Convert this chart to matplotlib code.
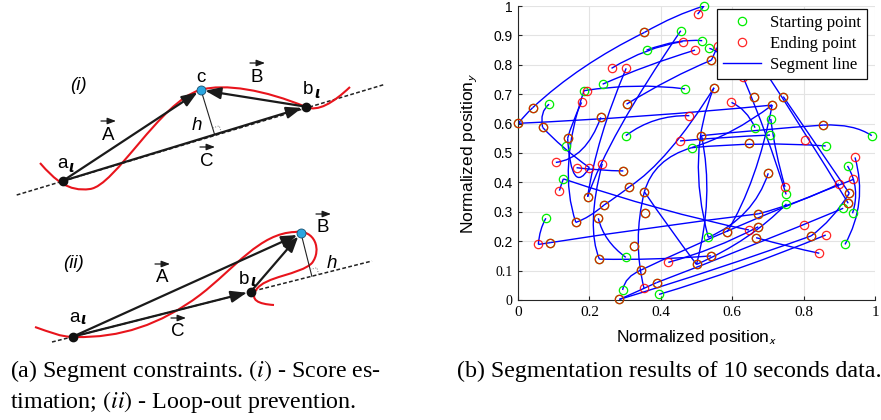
import numpy as np
import matplotlib
matplotlib.use('Agg')
import matplotlib.pyplot as plt
from matplotlib.path import Path
from matplotlib.patches import PathPatch

plt.rcParams['mathtext.fontset'] = 'stix'

# ---------------- left diagram: key points (figure pixels, y down) ----------------
# panel (i)
a1 = np.array([62.7, 181.0])
b1 = np.array([306.0, 106.7])
c1 = np.array([201.0, 90.0])
dash1 = np.array([[16.7, 195.0], [385.0, 84.3]])
red1_start = (40, 163)
red1_beziers = [  # (ctrl1, ctrl2, end)
    ((55, 180), (68, 192), (90, 189)),
    ((115, 186), (160, 102), (200, 90)),
    ((225, 83), (265, 90), (306, 107)),
    ((318, 112), (333, 103), (350, 87)),
]
# panel (ii)
a2 = np.array([72.7, 336.7])
b2 = np.array([250.7, 291.7])
c2 = np.array([301.0, 233.3])
dash2 = np.array([[52.0, 342.0], [372.0, 261.0]])
red2_start = (35, 327)
red2_beziers = [
    ((50, 332), (60, 337), (75, 337)),
    ((120, 338), (160, 325), (200, 295)),
    ((235, 268), (260, 233), (295, 232)),
    ((315, 229), (322, 250), (312, 263)),
    ((300, 275), (265, 276), (256, 290)),
    ((250, 300), (258, 304), (274, 305)),
]

# labels (text, x, y, italic, has_vector_arrow, has_iota_subscript)
labels = [
    ('(i)', 78, 85, True, False, False), ('c', 201, 77, False, False, False),
    ('B', 257, 77, False, True, False), ('b', 308, 90, False, False, True),
    ('A', 108, 135, False, True, False), ('h', 197, 125, True, False, False),
    ('C', 207, 161, False, True, False), ('a', 62, 164, False, False, True),
    ('(ii)', 73, 263, True, False, False), ('A', 162, 278, False, True, False),
    ('b', 244, 279, False, False, True), ('B', 323, 228, False, True, False),
    ('h', 332, 263, True, False, False), ('a', 74, 317, False, False, True),
    ('C', 178, 332, False, True, False),
]

# ---------------- right plot data ----------------
start_x = [0.521, 0.456, 0.354, 0.516, 0.360, 0.536, 0.542, 0.237, 0.185, 0.468,
           0.549, 0.087, 0.041, 0.304, 0.661, 0.712, 0.743, 0.708, 0.001, 0.069,
           0.232, 0.302, 0.139, 0.134, 0.514, 0.486, 0.664, 0.647, 0.706, 0.855,
           0.991, 0.862, 0.295, 0.127, 0.312, 0.354, 0.195, 0.241, 0.356, 0.078,
           0.162, 0.225, 0.090, 0.326, 0.228, 0.302, 0.345, 0.500, 0.541, 0.533,
           0.586, 0.673, 0.667, 0.673, 0.701, 0.751, 0.752, 0.821, 0.916, 0.923,
           0.928, 0.925, 0.911, 0.937, 0.293, 0.284, 0.388, 0.395]
start_y = [1.000, 0.916, 0.910, 0.882, 0.850, 0.856, 0.816, 0.734, 0.712, 0.718,
           0.722, 0.666, 0.654, 0.666, 0.692, 0.663, 0.692, 0.616, 0.601, 0.587,
           0.621, 0.559, 0.550, 0.525, 0.559, 0.518, 0.586, 0.533, 0.561, 0.595,
           0.559, 0.524, 0.439, 0.412, 0.385, 0.368, 0.351, 0.323, 0.295, 0.278,
           0.264, 0.278, 0.195, 0.184, 0.139, 0.145, 0.102, 0.121, 0.150, 0.213,
           0.232, 0.249, 0.212, 0.293, 0.431, 0.359, 0.327, 0.218, 0.189, 0.456,
           0.363, 0.329, 0.312, 0.295, 0.034, 0.002, 0.059, 0.019]

end_x = [0.503, 0.354, 0.461, 0.496, 0.561, 0.542, 0.262, 0.303, 0.192, 0.178,
         0.041, 0.304, 0.549, 0.598, 0.631, 0.661, 0.712, 0.743, 0.001, 0.069,
         0.232, 0.480, 0.139, 0.454, 0.514, 0.647, 0.804, 0.855, 0.944, 0.106,
         0.164, 0.200, 0.236, 0.295, 0.116, 0.312, 0.354, 0.195, 0.241, 0.356,
         0.162, 0.225, 0.057, 0.090, 0.326, 0.228, 0.421, 0.345, 0.500, 0.541,
         0.586, 0.647, 0.673, 0.667, 0.673, 0.701, 0.748, 0.802, 0.821, 0.862,
         0.844, 0.899, 0.939, 0.928, 0.925, 0.284, 0.353, 0.388]
end_y = [0.972, 0.910, 0.879, 0.850, 0.865, 0.816, 0.788, 0.788, 0.710, 0.672,
         0.654, 0.666, 0.722, 0.672, 0.757, 0.692, 0.663, 0.692, 0.601, 0.587,
         0.621, 0.627, 0.550, 0.541, 0.559, 0.533, 0.544, 0.595, 0.485, 0.468,
         0.450, 0.450, 0.463, 0.439, 0.372, 0.385, 0.368, 0.351, 0.323, 0.295,
         0.264, 0.278, 0.189, 0.195, 0.184, 0.139, 0.128, 0.102, 0.121, 0.150,
         0.232, 0.238, 0.249, 0.212, 0.293, 0.431, 0.385, 0.255, 0.218, 0.221,
         0.159, 0.395, 0.410, 0.363, 0.329, 0.002, 0.040, 0.059]

# segment lines: start, quadratic control, end
seg_x0 = [0.001, 0.041, 0.354, 0.521, 0.001, 0.087, 0.069, 0.164, 0.185, 0.237,
          0.262, 0.360, 0.456, 0.303, 0.304, 0.178, 0.185, 0.302, 0.712, 0.514,
          0.855, 0.486, 0.706, 0.598, 0.549, 0.631, 0.743, 0.680, 0.708, 0.944,
          0.090, 0.673, 0.127, 0.116, 0.225, 0.228, 0.284, 0.388, 0.284, 0.395,
          0.293, 0.345, 0.354, 0.354, 0.354, 0.500, 0.533, 0.500, 0.162, 0.241,
          0.057, 0.057, 0.236, 0.667, 0.586, 0.673, 0.821, 0.923, 0.312, 0.536,
          0.542, 0.232, 0.139]
seg_y0 = [0.601, 0.654, 0.910, 1.000, 0.601, 0.666, 0.587, 0.450, 0.712, 0.734,
          0.788, 0.850, 0.916, 0.788, 0.666, 0.672, 0.712, 0.559, 0.663, 0.559,
          0.595, 0.518, 0.561, 0.672, 0.722, 0.757, 0.692, 0.800, 0.616, 0.485,
          0.195, 0.293, 0.412, 0.372, 0.278, 0.139, 0.002, 0.059, 0.002, 0.019,
          0.034, 0.102, 0.368, 0.368, 0.368, 0.121, 0.213, 0.121, 0.264, 0.323,
          0.189, 0.189, 0.463, 0.212, 0.232, 0.249, 0.218, 0.456, 0.385, 0.856,
          0.816, 0.621, 0.550]
seg_cx = [0.020, 0.170, 0.440, 0.512, 0.350, 0.060, 0.120, 0.230, 0.330, 0.360,
          0.360, 0.450, 0.250, 0.220, 0.430, 0.150, 0.110, 0.380, 0.600, 0.680,
          0.940, 0.680, 0.580, 0.640, 0.470, 0.700, 0.840, 0.800, 0.720, 0.980,
          0.380, 0.790, 0.400, 0.121, 0.240, 0.380, 0.336, 0.650, 0.550, 0.620,
          0.300, 0.600, 0.380, 0.320, 0.420, 0.550, 0.660, 0.650, 0.200, 0.280,
          0.060, 0.073, 0.190, 0.760, 0.670, 0.550, 0.880, 0.960, 0.420, 0.580,
          0.550, 0.190, 0.150]
seg_cy = [0.630, 0.800, 0.970, 0.986, 0.620, 0.640, 0.520, 0.440, 0.740, 0.800,
          0.860, 0.890, 0.550, 0.550, 0.760, 0.600, 0.450, 0.630, 0.560, 0.580,
          0.600, 0.540, 0.555, 0.650, 0.500, 0.560, 0.520, 0.580, 0.500, 0.330,
          0.250, 0.330, 0.300, 0.392, 0.200, 0.135, 0.030, 0.180, 0.100, 0.100,
          0.080, 0.250, 0.480, 0.200, 0.250, 0.350, 0.280, 0.200, 0.280, 0.354,
          0.240, 0.192, 0.250, 0.180, 0.400, 0.170, 0.270, 0.380, 0.470, 0.840,
          0.840, 0.480, 0.350]
seg_x1 = [0.041, 0.354, 0.521, 0.503, 0.712, 0.069, 0.200, 0.295, 0.468, 0.496,
          0.461, 0.516, 0.195, 0.195, 0.542, 0.139, 0.162, 0.480, 0.486, 0.855,
          0.991, 0.862, 0.454, 0.664, 0.533, 0.751, 0.928, 0.925, 0.748, 0.916,
          0.673, 0.899, 0.647, 0.127, 0.302, 0.541, 0.388, 0.911, 0.821, 0.862,
          0.345, 0.939, 0.486, 0.353, 0.500, 0.514, 0.701, 0.752, 0.241, 0.312,
          0.078, 0.090, 0.228, 0.844, 0.712, 0.421, 0.928, 0.937, 0.549, 0.631,
          0.561, 0.106, 0.200]
seg_y1 = [0.654, 0.910, 1.000, 0.972, 0.663, 0.587, 0.450, 0.439, 0.718, 0.850,
          0.879, 0.882, 0.351, 0.351, 0.816, 0.550, 0.264, 0.627, 0.518, 0.595,
          0.559, 0.524, 0.541, 0.586, 0.213, 0.359, 0.363, 0.329, 0.385, 0.189,
          0.293, 0.395, 0.238, 0.412, 0.145, 0.150, 0.059, 0.312, 0.218, 0.221,
          0.102, 0.410, 0.518, 0.040, 0.121, 0.559, 0.431, 0.327, 0.323, 0.385,
          0.278, 0.195, 0.139, 0.159, 0.663, 0.128, 0.363, 0.295, 0.722, 0.757,
          0.865, 0.468, 0.450]

x_ticks = [0, 0.2, 0.4, 0.6, 0.8, 1]
y_ticks = [0, 0.1, 0.2, 0.3, 0.4, 0.5, 0.6, 0.7, 0.8, 0.9, 1]

W, H = 881, 420
fig = plt.figure(figsize=(W / 100, H / 100), dpi=100)

# ---------------- left diagram ----------------
ax0 = fig.add_axes([0, 0, 1, 1])
ax0.set_xlim(0, W)
ax0.set_ylim(H, 0)
ax0.axis('off')

sans = 'Liberation Sans'
serif = 'Liberation Serif'
arrow_col = '#1a1a1a'


def red_curve(start, beziers):
    verts = [start]
    codes = [Path.MOVETO]
    for c_a, c_b, p in beziers:
        verts += [c_a, c_b, p]
        codes += [Path.CURVE4] * 3
    ax0.add_patch(PathPatch(Path(verts, codes), fc='none', ec='#e8141c', lw=1.5, zorder=2))


def vec_arrow(p0, p1, lw=1.6, scale=11, shrink=3):
    ax0.annotate('', xy=p1, xytext=p0,
                 arrowprops=dict(arrowstyle='-|>,head_length=0.85,head_width=0.32',
                                 lw=lw, color=arrow_col, shrinkA=0, shrinkB=shrink,
                                 mutation_scale=scale), zorder=4)


def right_angle(c, a, b, size=7):
    d = (b - a) / np.linalg.norm(b - a)
    foot = a + np.dot(c - a, d) * d
    n = (c - foot) / np.linalg.norm(c - foot)
    ax0.plot([foot[0], c[0]], [foot[1], c[1]], color='#222222', lw=0.8, zorder=3)
    sq = np.array([foot + d * size, foot + d * size + n * size, foot + n * size])
    ax0.plot(sq[:, 0], sq[:, 1], color='#777777', lw=0.7, ls=':', zorder=3)


for dash, a, b, c, red_s, red_b in [(dash1, a1, b1, c1, red1_start, red1_beziers),
                                    (dash2, a2, b2, c2, red2_start, red2_beziers)]:
    ax0.plot(dash[:, 0], dash[:, 1], color='#222222', lw=1.1, ls=(0, (2.5, 1.5)), zorder=1)
    red_curve(red_s, red_b)
    right_angle(c, a, b)
    vec_arrow(a, c)
    vec_arrow(b, c)
    vec_arrow(a, b)
    ax0.plot([a[0], b[0]], [a[1], b[1]], 'o', color='#111111', ms=6, zorder=5)
    ax0.plot(c[0], c[1], 'o', mfc='#2aa6e0', mec='#1a4f6e', mew=0.6, ms=6.5, zorder=6)

for txt, x, y, ital, arr, sub in labels:
    ax0.text(x, y, txt, fontsize=13.5, family=sans, style='italic' if ital else 'normal',
             ha='center', va='center', zorder=7)
    if arr:
        vec_arrow((x - 7, y - 14), (x + 8, y - 14), lw=0.9, scale=6, shrink=0)
    if sub:
        ax0.text(x + 6, y + 3, '\u03b9', fontsize=10.5, family='DejaVu Sans',
                 weight='bold', style='italic', ha='left', va='center', zorder=7)

cap_size = 17.3
fig.text(10 / W, 1 - 377 / H, r'(a) Segment constraints. $(i)$ - Score es-',
         family=serif, fontsize=cap_size, va='baseline')
fig.text(10 / W, 1 - 408 / H, r'timation; $(ii)$ - Loop-out prevention.',
         family=serif, fontsize=cap_size, va='baseline')
fig.text(457 / W, 1 - 377 / H, '(b) Segmentation results of 10 seconds data.',
         family=serif, fontsize=cap_size, va='baseline')

# ---------------- right plot ----------------
ax = fig.add_axes([518 / W, 1 - 300 / H, 357 / W, 294 / H])
ax.set_xlim(0, 1)
ax.set_ylim(0, 1)

for x0, y0, cx, cy, x1, y1 in zip(seg_x0, seg_y0, seg_cx, seg_cy, seg_x1, seg_y1):
    p = Path([(x0, y0), (cx, cy), (x1, y1)], [Path.MOVETO, Path.CURVE3, Path.CURVE3])
    ax.add_patch(PathPatch(p, fc='none', ec='#0000ff', lw=1.0, zorder=2))

ax.plot(start_x, start_y, 'o', mfc='none', mec='#00ee00', ms=6, mew=0.9, zorder=3,
        label='Starting point', clip_on=False)
ax.plot(end_x, end_y, 'o', mfc='none', mec='#ff0000', ms=6, mew=0.9, zorder=4, alpha=0.85,
        label='Ending point', clip_on=False)
ax.plot([], [], color='#0000ff', lw=1.0, label='Segment line')

ax.set_xticks(x_ticks)
ax.set_yticks(y_ticks)
ax.set_xticklabels(['0' if t == 0 else ('1' if t == 1 else f'{t:g}') for t in x_ticks],
                   family=serif, fontsize=11)
ylabs = ax.set_yticklabels(['0' if t == 0 else ('1' if t == 1 else f'{t:g}') for t in y_ticks],
                           fontsize=10)
for t, lab in zip(y_ticks, ylabs):
    lab.set_family(serif if t < 0.15 else sans)
ax.tick_params(direction='in', length=3, width=0.8, color='#262626', pad=4)
ax.grid(True, color='#e3e3e3', lw=0.8)
ax.set_axisbelow(True)
for s in ['top', 'right']:
    ax.spines[s].set_visible(False)
for s in ['left', 'bottom']:
    ax.spines[s].set_color('#262626')
    ax.spines[s].set_linewidth(0.8)

ax.set_xlabel(r'Normalized position$_{\mathsf{x}}$', family=sans, fontsize=12.5)
ax.set_ylabel(r'Normalized position$_{\mathsf{y}}$', family=sans, fontsize=12.5)
ax.xaxis.set_label_coords(0.5, -0.095)
ax.yaxis.set_label_coords(-0.11, 0.5)

leg = ax.legend(loc='upper right', bbox_to_anchor=(867 / W, 1 - 9 / H),
                bbox_transform=fig.transFigure, prop={'family': serif, 'size': 12},
                fancybox=False, framealpha=1, edgecolor='#111111', borderpad=0.35,
                labelspacing=0.3, handlelength=2.3, handletextpad=0.55, borderaxespad=0)
leg.get_frame().set_linewidth(0.9)
leg.set_zorder(10)

fig.savefig('out.png', dpi=100)
